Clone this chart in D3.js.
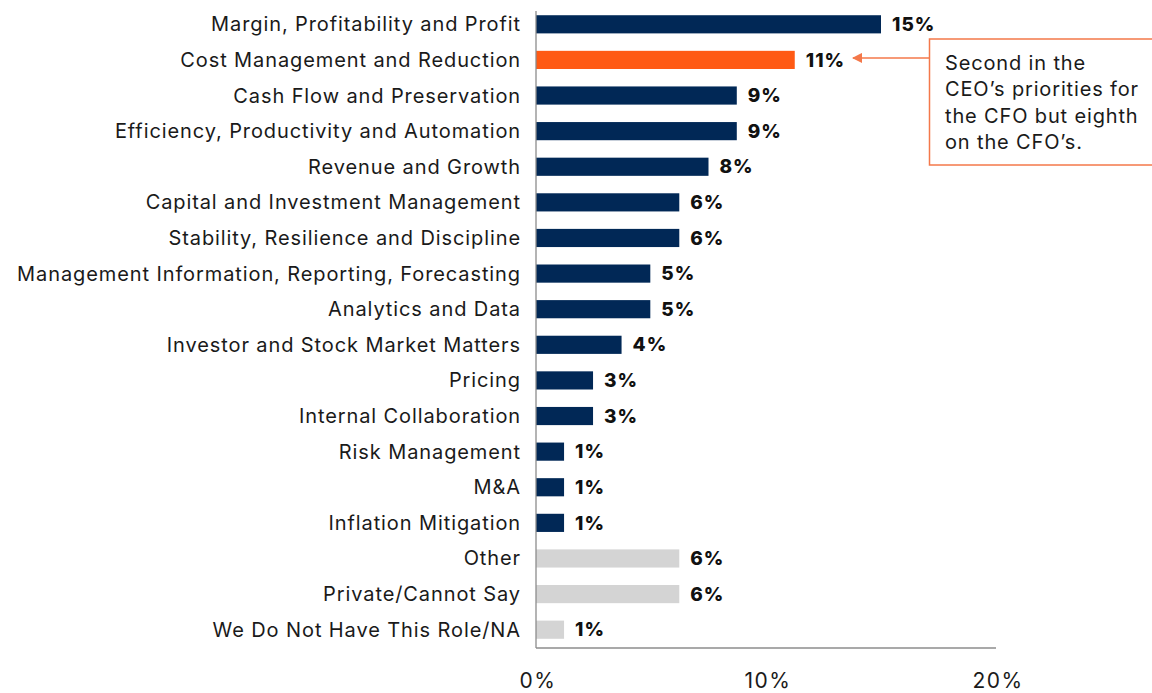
<!DOCTYPE html>
<html>
<head>
<meta charset="utf-8">
<script src="https://cdn.jsdelivr.net/npm/d3@7"></script>
<style>
  body { margin: 0; background: #fff; }
  svg { display: block; font-family: Inter, "Noto Sans", sans-serif; }
</style>
</head>
<body>
<svg id="chart" width="1152" height="693"></svg>
<script>
const categories = [
  'Margin, Profitability and Profit',
  'Cost Management and Reduction',
  'Cash Flow and Preservation',
  'Efficiency, Productivity and Automation',
  'Revenue and Growth',
  'Capital and Investment Management',
  'Stability, Resilience and Discipline',
  'Management Information, Reporting, Forecasting',
  'Analytics and Data',
  'Investor and Stock Market Matters',
  'Pricing',
  'Internal Collaboration',
  'Risk Management',
  'M&A',
  'Inflation Mitigation',
  'Other',
  'Private/Cannot Say',
  'We Do Not Have This Role/NA'
];
const values = [15.0, 11.25, 8.73, 8.73, 7.5, 6.23, 6.23, 4.97, 4.97, 3.72, 2.48, 2.48, 1.22, 1.22, 1.22, 6.23, 6.23, 1.22];
const valueLabels = ['15%', '11%', '9%', '9%', '8%', '6%', '6%', '5%', '5%', '4%', '3%', '3%', '1%', '1%', '1%', '6%', '6%', '1%'];
const groups = ['main', 'highlight', 'main', 'main', 'main', 'main', 'main', 'main', 'main', 'main', 'main', 'main', 'main', 'main', 'main', 'none', 'none', 'none'];
const xTicks = [0, 10, 20];
const noteLines = ['Second in the', 'CEO\u2019s priorities for', 'the CFO but eighth', 'on the CFO\u2019s.'];

const colors = { main: '#012856', highlight: '#ff5a14', none: '#d4d4d4' };
const accent = '#f4784a';

const svg = d3.select('#chart');
const rows = categories.map((c, i) => ({ cat: c, v: values[i], label: valueLabels[i], g: groups[i] }));

const x = d3.scaleLinear().domain([0, 20]).range([536, 996]);
const y = d3.scaleBand().domain(categories).range([6.5, 647.5]).paddingInner(0.49).paddingOuter(0.245);

/** bars */
svg.append('g')
  .selectAll('rect')
  .data(rows)
  .join('rect')
  .attr('x', x(0))
  .attr('y', d => y(d.cat))
  .attr('width', d => x(d.v) - x(0))
  .attr('height', y.bandwidth())
  .attr('fill', d => colors[d.g]);

/** value labels */
svg.append('g')
  .selectAll('text')
  .data(rows)
  .join('text')
  .attr('x', d => x(d.v) + 11)
  .attr('y', d => y(d.cat) + y.bandwidth() / 2)
  .attr('dy', '0.35em')
  .attr('font-size', 19)
  .attr('font-weight', 800)
  .attr('letter-spacing', 1)
  .attr('fill', '#111')
  .text(d => d.label);

/** category labels */
svg.append('g')
  .selectAll('text')
  .data(rows)
  .join('text')
  .attr('x', 521)
  .attr('y', d => y(d.cat) + y.bandwidth() / 2)
  .attr('dy', '0.35em')
  .attr('text-anchor', 'end')
  .attr('font-size', 20)
  .attr('letter-spacing', 0.9)
  .attr('fill', '#1a1a1a')
  .text(d => d.cat);

/** axes */
svg.append('line')
  .attr('x1', x(0)).attr('x2', x(0))
  .attr('y1', 11).attr('y2', 648)
  .attr('stroke', '#8c8c8c').attr('stroke-width', 1.3);
svg.append('line')
  .attr('x1', x(0)).attr('x2', x(20))
  .attr('y1', 648).attr('y2', 648)
  .attr('stroke', '#8c8c8c').attr('stroke-width', 1.3);

svg.append('g')
  .selectAll('text')
  .data(xTicks)
  .join('text')
  .attr('x', d => x(d) + 2)
  .attr('y', 681)
  .attr('dy', '0.35em')
  .attr('text-anchor', 'middle')
  .attr('font-size', 21)
  .attr('letter-spacing', 1.5)
  .attr('fill', '#1a1a1a')
  .text(d => d + '%');

/** annotation */
const yCost = y(categories[1]) + y.bandwidth() / 2 - 2;
svg.append('defs').append('marker')
  .attr('id', 'arrow')
  .attr('viewBox', '0 0 10 10')
  .attr('refX', 9).attr('refY', 5)
  .attr('markerWidth', 7).attr('markerHeight', 7)
  .attr('orient', 'auto')
  .append('path')
  .attr('d', 'M0,0 L10,5 L0,10 Z')
  .attr('fill', accent);

svg.append('line')
  .attr('x1', 929).attr('x2', 853)
  .attr('y1', yCost).attr('y2', yCost)
  .attr('stroke', accent).attr('stroke-width', 1.5)
  .attr('marker-end', 'url(#arrow)');

svg.append('rect')
  .attr('x', 929.5).attr('y', 39)
  .attr('width', 240).attr('height', 126)
  .attr('fill', '#fff')
  .attr('stroke', accent).attr('stroke-width', 1.5);

svg.append('g')
  .selectAll('text')
  .data(noteLines)
  .join('text')
  .attr('x', 945)
  .attr('y', (d, i) => 63 + i * 26.3)
  .attr('dy', '0.35em')
  .attr('font-size', 20)
  .attr('letter-spacing', 0.85)
  .attr('fill', '#1a1a1a')
  .text(d => d);
</script>
</body>
</html>
